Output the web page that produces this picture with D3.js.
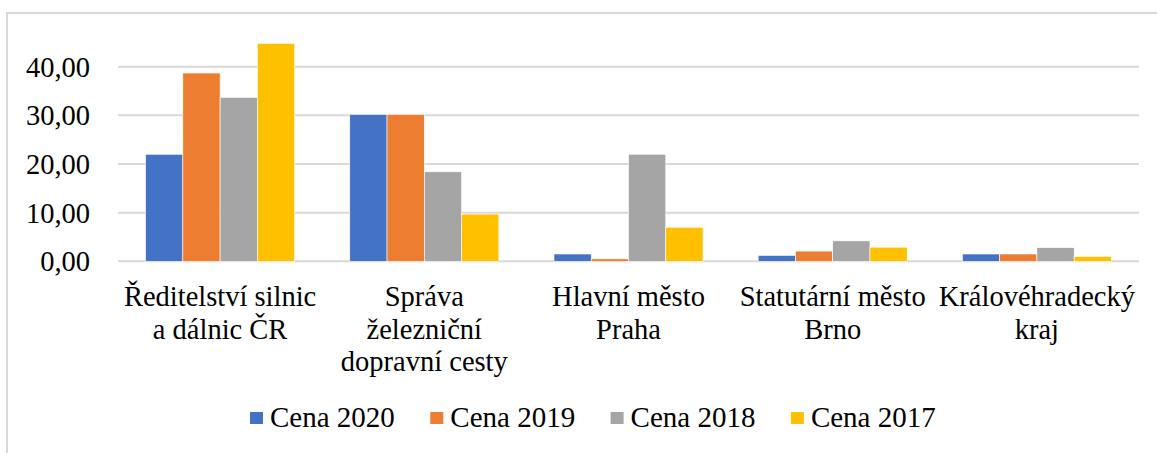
<!DOCTYPE html>
<html>
<head>
<meta charset="utf-8">
<script src="https://cdn.jsdelivr.net/npm/d3@7"></script>
<style>
  body { margin: 0; background: #fff; }
</style>
</head>
<body>
<svg id="chart" width="1157" height="453" font-family="'Liberation Serif', 'Times New Roman', Tinos, 'DejaVu Serif', serif"></svg>
<script>
// kategorie (zalomené řádky jako v originálu)
var categories = [
  ["Ředitelství silnic", "a dálnic ČR"],
  ["Správa", "železniční", "dopravní cesty"],
  ["Hlavní město", "Praha"],
  ["Statutární město", "Brno"],
  ["Královéhradecký", "kraj"]
];
var seriesNames = ["Cena 2020", "Cena 2019", "Cena 2018", "Cena 2017"];
var cena2020 = [22.0, 30.2, 1.5, 1.2, 1.5];
var cena2019 = [38.7, 30.2, 0.5, 2.1, 1.5];
var cena2018 = [33.7, 18.4, 22.0, 4.2, 2.8];
var cena2017 = [44.8, 9.7, 7.0, 2.9, 1.0];
var yTicks = [0, 10, 20, 30, 40];

var colors = ["#4472C4", "#ED7D31", "#A5A5A5", "#FFC000"];
var series = [cena2020, cena2019, cena2018, cena2017];

var svg = d3.select("#chart");

// rámeček
svg.append("path")
  .attr("d", "M7,453 V13 H1157")
  .attr("fill", "none")
  .attr("stroke", "#d9d9d9")
  .attr("stroke-width", 2);

var x0 = d3.scaleBand()
  .domain(d3.range(categories.length))
  .range([118, 1139])
  .paddingInner(0.27)
  .paddingOuter(0.135);

var x1 = d3.scaleBand()
  .domain(d3.range(series.length))
  .range([0, x0.bandwidth()]);

var y = d3.scaleLinear()
  .domain([0, 40])
  .range([261.3, 66.7]);

// mřížka
svg.append("g")
  .selectAll("line")
  .data(yTicks)
  .join("line")
  .attr("x1", 118).attr("x2", 1139)
  .attr("y1", function(d){ return y(d); })
  .attr("y2", function(d){ return y(d); })
  .attr("stroke", "#d9d9d9")
  .attr("stroke-width", 2);

// popisky osy y
svg.append("g")
  .selectAll("text")
  .data(yTicks)
  .join("text")
  .attr("x", 90)
  .attr("y", function(d){ return y(d); })
  .attr("dy", "0.35em")
  .attr("text-anchor", "end")
  .attr("font-size", 28.5)
  .text(function(d){ return d3.format(".2f")(d).replace(".", ","); });

// sloupce
var groups = svg.append("g")
  .selectAll("g")
  .data(series)
  .join("g")
  .attr("fill", function(d, i){ return colors[i]; });

groups.each(function(vals, si){
  d3.select(this).selectAll("rect")
    .data(vals)
    .join("rect")
    .attr("x", function(d, ci){ return x0(ci) + x1(si); })
    .attr("width", x1.bandwidth())
    .attr("y", function(d){ return y(d); })
    .attr("height", function(d){ return y(0) - y(d); })
    .attr("stroke", "#fff")
    .attr("stroke-width", 0.6);
});

// popisky kategorií
var cat = svg.append("g")
  .selectAll("text")
  .data(categories)
  .join("text")
  .attr("text-anchor", "middle")
  .attr("font-size", 28.5);

cat.each(function(lines, ci){
  d3.select(this).selectAll("tspan")
    .data(lines)
    .join("tspan")
    .attr("x", x0(ci) + x0.bandwidth() / 2)
    .attr("y", function(d, li){ return 306 + li * 32.5; })
    .text(function(d){ return d; });
});

// legenda
var legend = svg.append("g")
  .selectAll("g")
  .data(seriesNames)
  .join("g")
  .attr("transform", function(d, i){ return "translate(" + (250 + i * 180.3) + ",0)"; });

legend.append("rect")
  .attr("x", 0).attr("y", 412)
  .attr("width", 13).attr("height", 12)
  .attr("fill", function(d, i){ return colors[i]; });

legend.append("text")
  .attr("x", 20)
  .attr("y", 426.5)
  .attr("font-size", 29)
  .text(function(d){ return d; });
</script>
</body>
</html>
